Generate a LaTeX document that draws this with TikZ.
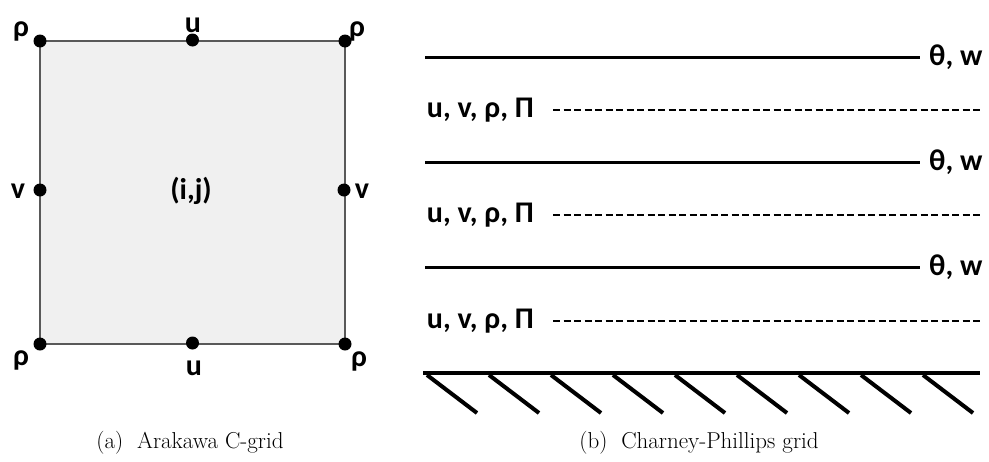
\documentclass[tikz,border=0pt]{standalone}
\usepackage{fontspec}
\newfontfamily\lblfont{Carlito}
\begin{document}
\begin{tikzpicture}[x=1pt,y=-1pt,
  lbl/.style={font=\lblfont\bfseries\fontsize{30}{30}\selectfont, inner sep=0pt},
  gridpt/.style={circle, fill=black, inner sep=0pt, minimum size=13pt},
  caption/.style={font=\fontsize{23}{23}\selectfont, inner sep=0pt, anchor=base},
  cell/.style={fill=gray!12, draw=gray!70!black, line width=1.2pt},
  level/.style={line width=3pt},
  halflevel/.style={line width=2pt, dash pattern=on 7pt off 3.5pt},
  ground/.style={line width=4.5pt},
  hatch/.style={line width=4pt}]
\useasboundingbox (0,0) rectangle (989,461);

% ---------- (a) Arakawa C-grid ----------
\coordinate (sw) at (40,344);
\coordinate (ne) at (345,41);
\draw[cell] (sw) rectangle (ne);

\node[gridpt] (rnw) at (40,41) {};
\node[gridpt] (rne) at (345,41) {};
\node[gridpt] (rsw) at (40,344) {};
\node[gridpt] (rse) at (345,344) {};
\node[gridpt] (un)  at (192.5,40) {};
\node[gridpt] (us)  at (192.5,343) {};
\node[gridpt] (vw)  at (40,190) {};
\node[gridpt] (ve)  at (344,190) {};

\node[lbl, anchor=base] (lrnw) at (21,36) {ρ};
\node[lbl, anchor=base] (lun)  at (193,32) {u};
\node[lbl, anchor=base] (lrne) at (357,36) {ρ};
\node[lbl, anchor=base] (lvw)  at (18,198) {v};
\node[lbl, anchor=base] (ctr)  at (191,199) {(i,j)};
\node[lbl, anchor=base] (lve)  at (362,198) {v};
\node[lbl, anchor=base] (lrsw) at (21,365) {ρ};
\node[lbl, anchor=base] (lus)  at (194,375) {u};
\node[lbl, anchor=base] (lrse) at (359,366) {ρ};

\node[caption] (capa) at (190,448) {(a)\ \ Arakawa C-grid};

% ---------- (b) Charney-Phillips grid ----------
\foreach \i/\yf/\yh in {1/57/110, 2/162/215, 3/267/321} {
  \node[lbl, anchor=west] (tw\i) at (929,\yf) {θ, w};
  \draw[level] (425,\yf) -- ([xshift=-9pt]tw\i.west);
  \node[lbl, anchor=east] (uv\i) at (534,\yh) {u, v, ρ, Π};
  \draw[halflevel] ([xshift=19pt]uv\i.east) -- (980,\yh);
}

\coordinate (g0) at (423,373);
\coordinate (g1) at (980,373);
\draw[ground] (g0) -- (g1);
\foreach \k in {0,...,8} {
  \draw[hatch] (427+62*\k,375) -- (477+62*\k,413);
}

\node[caption] (capb) at (699,448) {(b)\ \ Charney-Phillips grid};
\end{tikzpicture}
\end{document}
